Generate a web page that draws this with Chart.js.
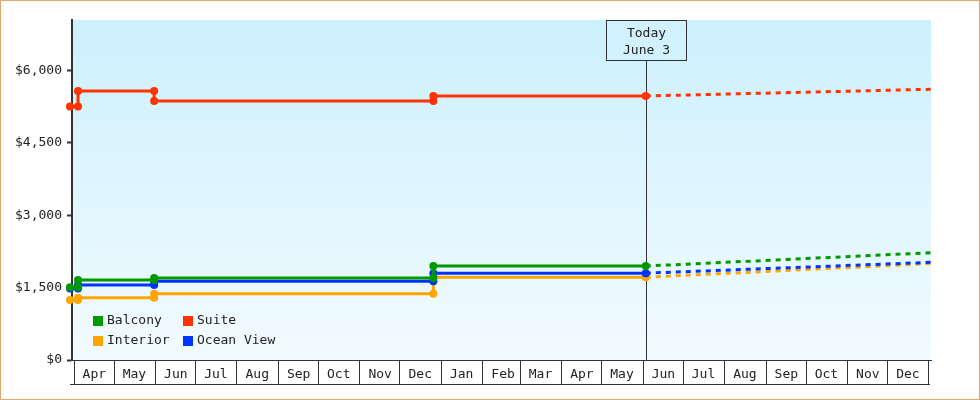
<!DOCTYPE html>
<html><head><meta charset="utf-8">
<script src="https://cdn.jsdelivr.net/npm/chart.js@4"></script>
<style>html,body{margin:0;padding:0;background:#fff;} #wrap{width:980px;height:400px;position:relative;}</style>
</head><body><div id="wrap"><canvas id="c" width="980" height="400"></canvas></div>
<script>
// ---- data ----
const monthLabels = ['Apr','May','Jun','Jul','Aug','Sep','Oct','Nov','Dec','Jan','Feb','Mar','Apr','May','Jun','Jul','Aug','Sep','Oct','Nov','Dec'];
// day offsets (from first Apr 1) of each month boundary
const monthStartDays = [0,30,61,91,122,153,183,214,244,275,306,334,365,395,426,456,487,518,548,579,609,640];
const yTickValues = [0,1500,3000,4500,6000];

const historyDays = [-3, 3, 3, 60, 60, 269, 269, 428];
const balcony   = [1508, 1508, 1660, 1660, 1700, 1700, 1948, 1948];
const suite     = [5258, 5258, 5578, 5578, 5372, 5372, 5475, 5475];
const interior  = [1244, 1244, 1292, 1292, 1372, 1372, 1717, 1717];
const oceanView = [1485, 1485, 1556, 1556, 1632, 1632, 1800, 1800];

const forecastDays = [428, 641.5];
const balconyForecast   = [1948, 2225];
const suiteForecast     = [5475, 5614];
const interiorForecast  = [1717, 2000];
const oceanViewForecast = [1800, 2026];

const todayDay = 428;
const todayText = ['Today', 'June 3'];
const legendNames = ['Balcony', 'Suite', 'Interior', 'Ocean View'];

// ---- styling ----
const COLORS = {'Balcony':'#009900','Suite':'#ff3300','Interior':'#ffa500','Ocean View':'#0033ff'};
const FONT = '"DejaVu Sans Mono", monospace';
const pts = (xs, ys) => xs.map((x, i) => ({x, y: ys[i]}));

function solid(label, ys){
  return {label, data: pts(historyDays, ys), borderColor: COLORS[label], backgroundColor: COLORS[label],
    borderWidth: 3, pointRadius: 4, pointHoverRadius: 4, pointBorderWidth: 0,
    pointBackgroundColor: COLORS[label], tension: 0, clip: false};
}
function dashed(label, ys){
  return {label: label + ' forecast', data: pts(forecastDays, ys), borderColor: COLORS[label],
    borderWidth: 3, borderDash: [5,5], pointRadius: 0, tension: 0, clip: false};
}

const decor = {
  id: 'decor',
  beforeDraw(chart){
    const {ctx, chartArea: a} = chart;
    ctx.save();
    const g = ctx.createLinearGradient(0, a.top, 0, a.bottom);
    g.addColorStop(0, '#ccf0fd');
    g.addColorStop(1, '#f2fbff');
    ctx.fillStyle = g;
    ctx.fillRect(a.left, a.top, a.right - a.left, a.bottom - a.top);
    ctx.strokeStyle = '#e8a86c';
    ctx.lineWidth = 1;
    ctx.strokeRect(0.5, 0.5, chart.width - 1, chart.height - 1);
    ctx.restore();
  },
  beforeDatasetsDraw(chart){
    const {ctx, chartArea: a, scales} = chart;
    const x = Math.round(scales.x.getPixelForValue(todayDay)) + 0.5;
    ctx.save();
    ctx.strokeStyle = '#333';
    ctx.lineWidth = 1;
    ctx.beginPath(); ctx.moveTo(x, a.top + 40); ctx.lineTo(x, a.bottom); ctx.stroke();
    ctx.fillStyle = '#d0f1fd';
    ctx.fillRect(x - 40, a.top + 0.5, 80, 40);
    ctx.strokeRect(x - 40, a.top + 0.5, 80, 40);
    ctx.fillStyle = '#222';
    ctx.font = '13px ' + FONT;
    ctx.textAlign = 'center';
    ctx.textBaseline = 'middle';
    ctx.fillText(todayText[0], x, a.top + 14);
    ctx.fillText(todayText[1], x, a.top + 31);
    ctx.restore();
  },
  afterDraw(chart){
    const {ctx, chartArea: a} = chart;
    ctx.save();
    ctx.strokeStyle = '#333';
    ctx.lineWidth = 1;
    ctx.beginPath(); ctx.moveTo(70, a.bottom + 24.5); ctx.lineTo(a.right - 1, a.bottom + 24.5); ctx.stroke();
    // legend
    ctx.font = '13px ' + FONT;
    ctx.textAlign = 'left';
    ctx.textBaseline = 'middle';
    legendNames.forEach((name, i) => {
      const col = i % 2, row = Math.floor(i / 2);
      const lx = a.left + 21 + col * 90;
      const ly = a.bottom - 44 + row * 20;
      ctx.fillStyle = COLORS[name];
      ctx.fillRect(lx, ly, 10, 10);
      ctx.fillStyle = '#222';
      ctx.fillText(name, lx + 14, ly + 5);
    });
    ctx.restore();
  }
};

new Chart(document.getElementById('c'), {
  type: 'line',
  data: {
    datasets: [
      solid('Balcony', balcony),
      solid('Suite', suite),
      solid('Ocean View', oceanView),
      solid('Interior', interior),
      dashed('Balcony', balconyForecast),
      dashed('Suite', suiteForecast),
      dashed('Ocean View', oceanViewForecast),
      dashed('Interior', interiorForecast)
    ]
  },
  options: {
    responsive: false,
    animation: false,
    events: [],
    layout: {padding: {left: 0, right: 49, top: 20, bottom: 0}},
    plugins: {legend: {display: false}, tooltip: {enabled: false}},
    scales: {
      x: {
        type: 'linear', min: -1.5, max: 641.5,
        afterBuildTicks: s => { s.ticks = monthStartDays.map(v => ({value: v})); },
        afterFit: s => { s.height = 40; },
        grid: {drawOnChartArea: false, drawTicks: true, tickLength: 24, color: '#333', lineWidth: 1},
        border: {display: true, color: '#333', width: 1},
        ticks: {autoSkip: false, maxRotation: 0, minRotation: 0, labelOffset: 20.3, padding: -17,
          color: '#222', font: {family: FONT, size: 13},
          callback: (v, i) => (i < monthLabels.length ? monthLabels[i] : '')}
      },
      y: {
        min: 0, max: 7050,
        afterBuildTicks: s => { s.ticks = yTickValues.map(v => ({value: v})); },
        afterFit: s => { s.width = 72; },
        grid: {drawOnChartArea: false, drawTicks: true, tickLength: 5, tickWidth: 2, tickColor: '#333'},
        border: {display: true, color: '#333', width: 2},
        ticks: {padding: 5, color: '#222', font: {family: FONT, size: 13},
          callback: v => '$' + Number(v).toLocaleString('en-US')}
      }
    }
  },
  plugins: [decor]
});
</script>
</body></html>
